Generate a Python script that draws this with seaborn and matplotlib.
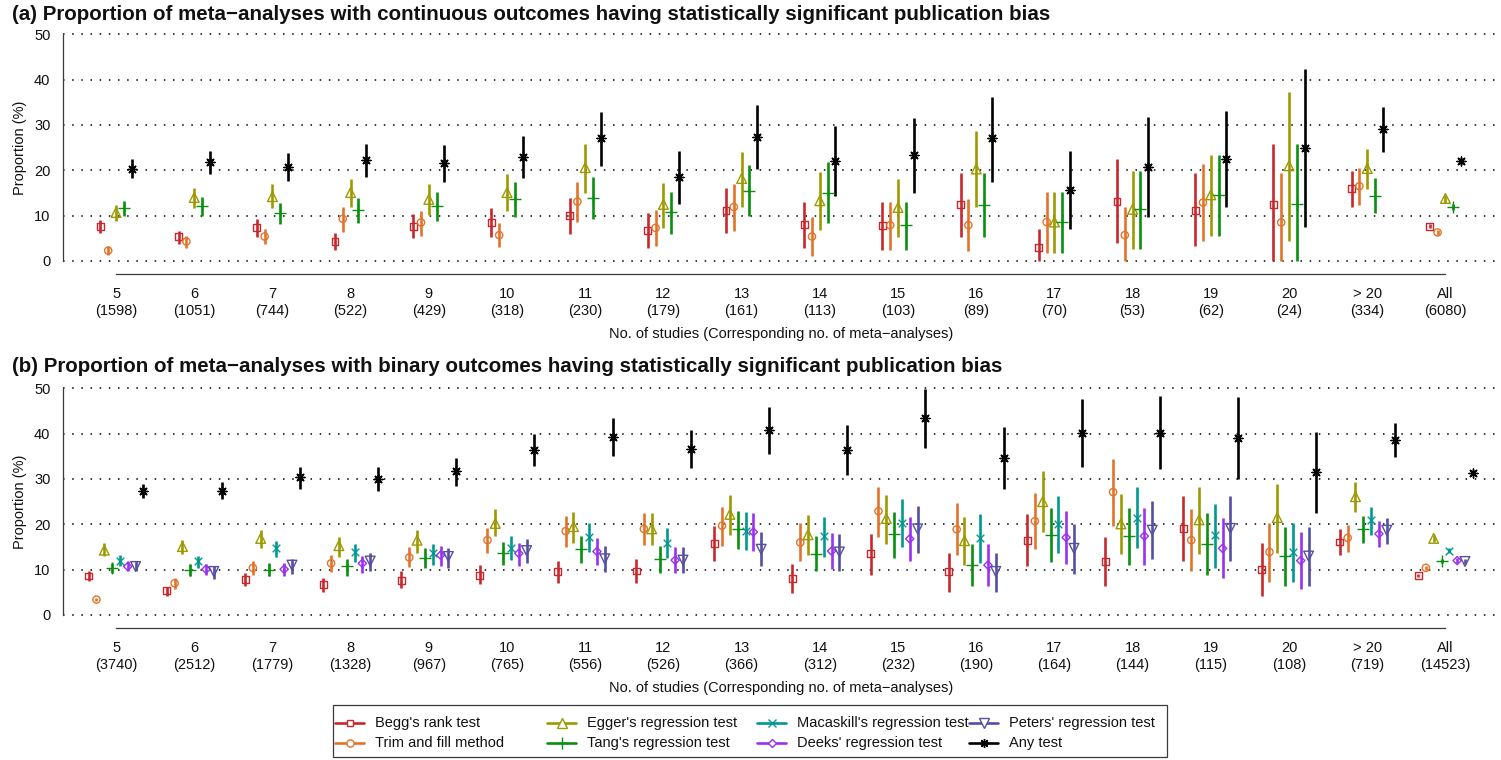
import numpy as np
import pandas as pd
import matplotlib
matplotlib.use("Agg")
import matplotlib.pyplot as plt
from matplotlib.lines import Line2D
from matplotlib.patches import Rectangle
import seaborn as sns

# ---------------------------------------------------------------- data
groups = ["5", "6", "7", "8", "9", "10", "11", "12", "13", "14", "15", "16",
          "17", "18", "19", "20", "> 20", "All"]
n_continuous = [1598, 1051, 744, 522, 429, 318, 230, 179, 161, 113, 103, 89,
                70, 53, 62, 24, 334, 6080]
n_binary = [3740, 2512, 1779, 1328, 967, 765, 556, 526, 366, 312, 232, 190,
            164, 144, 115, 108, 719, 14523]

# (estimate, lower, upper) in percent, one tuple per group
begg_cont = [(7.7, 6.2, 9.0), (5.3, 3.7, 6.7), (7.3, 5.2, 9.2), (4.3, 2.4, 6.1),
             (7.7, 5.0, 10.3), (8.5, 5.2, 11.6), (10.0, 6.0, 14.0), (6.8, 2.9, 10.5),
             (11.2, 6.2, 16.2), (8.0, 2.9, 13.1), (7.9, 2.4, 13.1), (12.4, 5.4, 19.3),
             (2.9, 0.0, 7.0), (13.2, 4.0, 22.4), (11.2, 3.3, 19.3), (12.5, 0.0, 25.8),
             (15.9, 11.8, 19.8), (7.7, 7.2, 8.2)]
trim_cont = [(2.3, 1.3, 3.2), (4.3, 2.8, 5.5), (5.4, 3.7, 7.1), (9.3, 6.5, 11.8),
             (8.5, 5.6, 11.1), (5.7, 3.0, 8.3), (13.1, 8.5, 17.5), (7.3, 3.4, 11.2),
             (11.9, 6.7, 16.9), (5.4, 1.1, 9.6), (7.9, 2.4, 13.1), (7.9, 2.1, 13.6),
             (8.6, 1.8, 15.3), (5.7, 0.0, 12.0), (12.9, 4.5, 21.3), (8.5, 0.0, 19.5),
             (16.5, 12.4, 20.6), (6.3, 5.8, 6.8)]
egger_cont = [(10.7, 8.9, 12.4), (14.0, 11.6, 16.0), (14.2, 11.6, 16.9), (15.1, 11.8, 18.1),
              (13.6, 10.1, 16.9), (15.1, 11.0, 19.1), (20.6, 15.1, 25.7), (12.5, 7.3, 17.1),
              (18.2, 12.0, 24.0), (13.3, 6.8, 19.7), (11.8, 5.4, 18.0), (20.3, 11.8, 28.7),
              (8.6, 1.8, 15.3), (11.4, 2.6, 19.9), (14.6, 5.6, 23.4), (21.0, 4.4, 37.2),
              (20.4, 15.8, 24.8), (13.8, 12.9, 14.6)]
tang_cont = [(11.6, 9.9, 13.3), (12.1, 9.9, 14.2), (10.5, 8.1, 12.9), (11.2, 8.3, 14.0),
             (12.2, 8.9, 15.3), (13.6, 9.6, 17.4), (14.0, 9.3, 18.5), (10.7, 6.0, 15.2),
             (15.5, 9.9, 21.2), (15.0, 8.4, 21.8), (7.9, 2.4, 13.1), (12.4, 5.4, 19.3),
             (8.6, 1.8, 15.3), (11.4, 2.6, 19.9), (14.6, 5.6, 23.4), (12.5, 0.0, 25.8),
             (14.4, 10.5, 18.2), (12.0, 11.3, 12.6)]
any_cont = [(20.4, 18.2, 22.4), (21.8, 19.1, 24.3), (20.8, 17.6, 23.8), (22.3, 18.5, 25.9),
            (21.7, 17.5, 25.6), (23.0, 18.2, 27.6), (27.1, 21.0, 32.8), (18.5, 12.6, 24.2),
            (27.4, 20.3, 34.3), (22.1, 14.4, 29.8), (23.4, 14.9, 31.5), (27.1, 17.5, 36.2),
            (15.7, 7.0, 24.3), (20.8, 9.6, 31.7), (22.6, 12.0, 33.1), (25.0, 7.6, 42.3),
            (29.1, 24.0, 34.0), (22.0, 21.3, 22.7)]

begg_bin = [(8.6, 7.6, 9.6), (5.3, 4.2, 6.2), (7.9, 6.5, 9.2), (6.8, 5.1, 8.2),
            (7.7, 5.9, 9.6), (8.8, 6.8, 11.0), (9.6, 7.0, 12.0), (9.7, 7.0, 12.3),
            (15.8, 11.8, 19.7), (8.0, 4.8, 11.2), (13.5, 8.8, 17.9), (9.5, 5.1, 13.7),
            (16.5, 10.7, 22.2), (11.8, 6.4, 17.1), (19.1, 11.8, 26.3), (10.1, 4.3, 15.9),
            (16.1, 13.2, 18.9), (8.7, 8.3, 9.1)]
trim_bin = [(3.4, 3.0, 3.8), (7.0, 5.7, 8.1), (10.4, 8.8, 11.9), (11.4, 9.4, 13.2),
            (12.7, 10.5, 14.9), (16.5, 13.7, 19.1), (18.5, 15.1, 21.8), (19.0, 15.4, 22.4),
            (19.7, 15.3, 23.9), (16.0, 11.8, 20.2), (22.9, 17.3, 28.3), (18.9, 13.2, 24.6),
            (20.7, 14.5, 27.0), (27.1, 19.6, 34.4), (16.5, 9.6, 23.4), (13.9, 7.2, 20.4),
            (17.0, 14.0, 19.9), (10.4, 10.0, 10.8)]
egger_bin = [(14.3, 13.1, 15.8), (15.1, 13.5, 16.5), (16.9, 14.8, 18.7), (15.3, 12.9, 17.1),
             (16.5, 13.7, 18.7), (20.2, 17.5, 23.3), (19.5, 15.9, 22.8), (19.0, 15.4, 22.4),
             (22.2, 17.6, 26.5), (17.7, 13.2, 22.0), (21.3, 15.7, 26.5), (16.4, 11.0, 21.7),
             (25.0, 18.2, 31.8), (20.1, 13.5, 26.7), (21.0, 13.4, 28.3), (21.5, 13.6, 29.0),
             (26.1, 22.7, 29.3), (16.9, 16.2, 17.6)]
tang_bin = [(10.4, 9.3, 11.5), (9.9, 8.5, 11.2), (9.9, 8.5, 11.4), (10.7, 8.7, 12.4),
            (12.5, 10.3, 14.7), (13.6, 11.0, 16.0), (14.5, 11.4, 17.5), (12.4, 9.3, 15.3),
            (18.9, 14.6, 22.9), (13.5, 9.6, 17.4), (17.8, 12.5, 22.7), (11.0, 6.5, 15.7),
            (17.7, 11.7, 23.5), (17.4, 11.0, 23.5), (15.7, 8.8, 22.4), (13.0, 6.5, 19.4),
            (18.9, 15.8, 21.8), (11.9, 11.4, 12.4)]
macaskill_bin = [(12.0, 10.9, 13.2), (11.8, 10.3, 13.1), (14.7, 12.7, 16.3), (13.8, 11.6, 15.7),
                 (13.7, 11.0, 15.7), (14.8, 12.1, 17.4), (17.3, 14.0, 20.4), (15.9, 12.6, 19.1),
                 (18.6, 14.3, 22.7), (17.4, 12.9, 21.7), (20.2, 14.9, 25.6), (16.9, 11.4, 22.3),
                 (20.1, 13.7, 26.3), (21.5, 14.7, 28.3), (17.6, 10.3, 24.4), (13.9, 7.2, 20.4),
                 (20.9, 17.6, 23.9), (14.2, 13.7, 14.7)]
deeks_bin = [(10.7, 9.6, 11.8), (10.1, 8.8, 11.2), (10.1, 8.6, 11.5), (11.4, 9.3, 13.0),
             (13.2, 10.8, 15.3), (13.6, 10.8, 15.8), (14.0, 11.0, 16.9), (12.1, 9.2, 15.1),
             (18.3, 14.2, 22.4), (14.1, 10.1, 18.0), (16.8, 11.8, 21.7), (11.0, 6.5, 15.7),
             (17.1, 11.2, 22.9), (17.4, 11.0, 23.7), (14.7, 8.1, 21.3), (12.0, 5.7, 18.3),
             (17.9, 14.9, 20.8), (12.0, 11.5, 12.5)]
peters_bin = [(10.7, 9.6, 11.8), (9.6, 7.9, 10.7), (11.0, 9.0, 12.3), (11.9, 9.8, 13.6),
              (12.9, 10.3, 14.7), (14.2, 11.5, 16.8), (12.4, 9.4, 15.3), (12.1, 9.2, 15.1),
              (14.5, 10.7, 18.2), (13.9, 9.8, 17.8), (19.0, 13.7, 24.1), (9.6, 5.1, 13.7),
              (14.7, 9.0, 20.1), (18.7, 12.3, 25.2), (19.1, 11.8, 26.3), (13.0, 6.5, 19.4),
              (18.7, 15.6, 21.5), (11.8, 11.3, 12.3)]
any_bin = [(27.3, 25.7, 28.9), (27.4, 25.6, 29.3), (30.4, 27.9, 32.6), (30.1, 27.4, 32.6),
           (31.8, 28.5, 34.7), (36.5, 32.9, 39.9), (39.3, 35.1, 43.5), (36.6, 32.4, 40.8),
           (40.7, 35.5, 45.8), (36.5, 30.9, 41.9), (43.5, 36.9, 49.8), (34.7, 27.8, 41.5),
           (40.2, 32.6, 47.6), (40.2, 32.1, 48.4), (39.1, 30.1, 48.0), (31.5, 22.6, 40.3),
           (38.6, 34.9, 42.3), (31.4, 30.9, 31.9)]

# ---------------------------------------------------------------- styles
# name: (colour, marker, marker size in pt, open shape?)
STYLE = {
    "Begg's rank test":            ("#C8282D", "s", 5.0, True),
    "Trim and fill method":        ("#E2732A", "o", 5.2, True),
    "Egger's regression test":     ("#9C9A00", "^", 7.0, True),
    "Tang's regression test":      ("#0A9010", "+", 8.0, False),
    "Macaskill's regression test": ("#00998F", "x", 5.5, False),
    "Deeks' regression test":      ("#9A30F0", "D", 4.2, True),
    "Peters' regression test":     ("#554FA0", "v", 7.0, True),
    "Any test":                    ("#000000", (8, 2, 0), 6.5, False),
}

W, H = 1501, 760
sns.set_style("white")
plt.rcParams["font.family"] = ["Liberation Sans", "DejaVu Sans"]
plt.rcParams["axes.unicode_minus"] = True

fig = plt.figure(figsize=(W / 100, H / 100), dpi=100)
TXT = "#111111"
AXC = "#3a3a3a"


def fx(px):
    return px / W


def fy(py):
    return 1 - py / H


PLOT_LEFT, PLOT_RIGHT = 63, 1500          # plotting region, pixels
XLIM = (-0.678, 17.698)
YLIM = (-2, 52)
STEP = 0.1  # horizontal spacing between methods inside a group


def draw_panel(ax, series, counts, title, title_y, xlabel_y, ylabel_y):
    k = len(series)
    offsets = (np.arange(k) - (k - 1) / 2) * STEP
    for h in range(0, 51, 10):
        ax.axhline(h, color="black", lw=1.1, ls=(0, (1, 5)), zorder=1)
    for j, (name, vals) in enumerate(series):
        col, mk, ms, open_shape = STYLE[name]
        df = pd.DataFrame(vals, columns=["est", "lo", "hi"])
        df["x"] = np.arange(len(df)) + offsets[j]
        ax.vlines(df["x"], df["lo"], df["hi"], color=col, lw=1.9, zorder=2)
        kws = dict(color=col, s=ms ** 2, marker=mk, linewidth=1.0, zorder=3)
        if open_shape:
            kws.update(facecolor="none", edgecolor=col)
        sns.scatterplot(data=df, x="x", y="est", ax=ax, legend=False, **kws)

    ax.set_xlim(*XLIM)
    ax.set_ylim(*YLIM)
    ax.set_xlabel("")
    ax.set_ylabel("")
    for s in ("top", "right"):
        ax.spines[s].set_visible(False)
    ax.spines["left"].set_bounds(0, 50)
    ax.spines["bottom"].set_bounds(0, len(groups) - 1)
    ax.spines["bottom"].set_position(("outward", 3))
    for s in ("left", "bottom"):
        ax.spines[s].set_color(AXC)
        ax.spines[s].set_linewidth(0.9)
    ax.set_yticks(range(0, 51, 10))
    ax.set_xticks(range(len(groups)))
    ax.set_xticklabels([f"{g}\n({n})" for g, n in zip(groups, counts)],
                       linespacing=1.3)
    ax.tick_params(axis="x", length=5.3, width=0.9, color=AXC,
                   pad=4, labelsize=10.5, labelcolor=TXT)
    ax.tick_params(axis="y", length=4, width=0.9, color=AXC,
                   pad=5, labelsize=10.5, labelcolor=TXT)
    ax.grid(False)

    fig.text(fx(12), fy(title_y), title, ha="left", va="center",
             fontsize=14.8, fontweight="bold", color=TXT)
    # axis titles centred on the plotting region
    fig.text(fx((PLOT_LEFT + PLOT_RIGHT) / 2), fy(xlabel_y),
             "No. of studies (Corresponding no. of meta\u2212analyses)",
             ha="center", va="center", fontsize=10.5, color=TXT)
    fig.text(fx(20), fy(ylabel_y), "Proportion (%)", rotation=90,
             ha="center", va="center", fontsize=10.5, color=TXT)


# pixel geometry: 0 % and 50 % gridlines of each panel
SCALE = (261 - 34.3) / 50


def panel_axes(y0_px):
    top = y0_px - 50 * SCALE - (YLIM[1] - 50) * SCALE
    bottom = y0_px - YLIM[0] * SCALE
    return fig.add_axes([fx(PLOT_LEFT), fy(bottom), fx(PLOT_RIGHT) - fx(PLOT_LEFT),
                         (bottom - top) / H])


ax_a = panel_axes(261)
draw_panel(ax_a,
           [("Begg's rank test", begg_cont), ("Trim and fill method", trim_cont),
            ("Egger's regression test", egger_cont), ("Tang's regression test", tang_cont),
            ("Any test", any_cont)],
           n_continuous,
           "(a) Proportion of meta\u2212analyses with continuous outcomes having "
           "statistically significant publication bias",
           title_y=14, xlabel_y=334, ylabel_y=148)

ax_b = panel_axes(615)
draw_panel(ax_b,
           [("Begg's rank test", begg_bin), ("Trim and fill method", trim_bin),
            ("Egger's regression test", egger_bin), ("Tang's regression test", tang_bin),
            ("Macaskill's regression test", macaskill_bin),
            ("Deeks' regression test", deeks_bin),
            ("Peters' regression test", peters_bin), ("Any test", any_bin)],
           n_binary,
           "(b) Proportion of meta\u2212analyses with binary outcomes having "
           "statistically significant publication bias",
           title_y=367, xlabel_y=688, ylabel_y=502)

# ---------------------------------------------------------------- legend
fig.add_artist(Rectangle((fx(333), fy(757)), fx(1167) - fx(333), (757 - 705) / H,
                         transform=fig.transFigure, fill=False,
                         edgecolor=AXC, linewidth=0.9))
legend_order = [["Begg's rank test", "Trim and fill method"],
                ["Egger's regression test", "Tang's regression test"],
                ["Macaskill's regression test", "Deeks' regression test"],
                ["Peters' regression test", "Any test"]]
text_x = [375, 587, 797, 1009]
row_y = [723, 743]
for c, names in enumerate(legend_order):
    for r, name in enumerate(names):
        col, mk, ms, open_shape = STYLE[name]
        tx, ty = text_x[c], row_y[r]
        xs = [fx(tx - 40), fx(tx - 25.5), fx(tx - 11)]
        fig.add_artist(Line2D(xs, [fy(ty)] * 3, transform=fig.transFigure,
                              color=col, lw=1.9, marker=mk, markevery=[1],
                              markersize=ms,
                              markerfacecolor="white" if open_shape else col,
                              markeredgecolor=col, markeredgewidth=1.0))
        fig.text(fx(tx), fy(ty), name, ha="left", va="center", fontsize=10.5,
                 color=TXT)

fig.savefig("out.png", dpi=100)
